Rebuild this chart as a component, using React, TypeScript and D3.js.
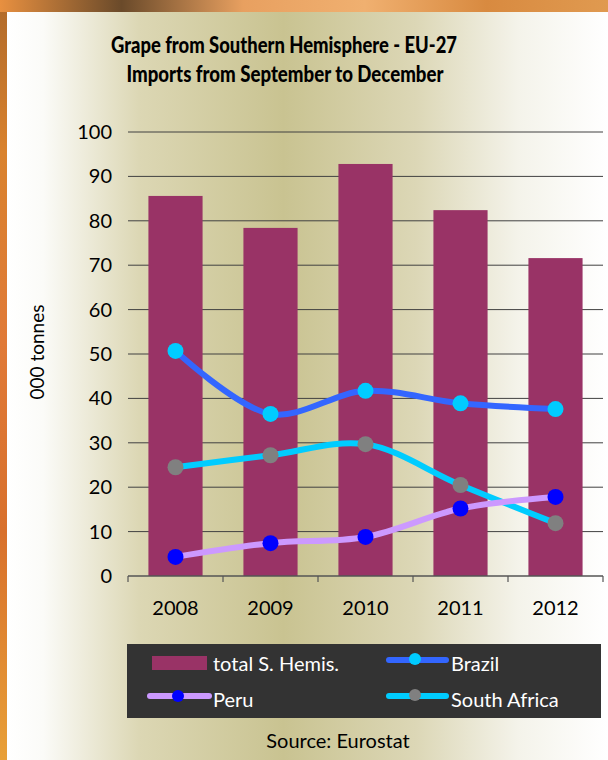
import React from "react";
import * as d3 from "d3";

const years = ["2008", "2009", "2010", "2011", "2012"];
const totalSH = [85.6, 78.4, 92.8, 82.4, 71.6];
const brazil = [50.7, 36.5, 41.7, 38.9, 37.6];
const southAfrica = [24.5, 27.2, 29.7, 20.5, 11.9];
const peru = [4.3, 7.4, 8.8, 15.2, 17.8];
const yTicks = [0, 10, 20, 30, 40, 50, 60, 70, 80, 90, 100];

const W = 608;
const H = 760;
const FONT = "Lato, 'Open Sans', sans-serif";

export default function App() {
  const x = d3
    .scaleBand<string>()
    .domain(years)
    .range([128, 603])
    .paddingInner(0.43)
    .paddingOuter(0.215);
  const y = d3.scaleLinear().domain([0, 100]).range([576, 132]);
  const cx = (d: string) => (x(d) as number) + x.bandwidth() / 2;
  const line = d3
    .line<number>()
    .x((_, i) => cx(years[i]))
    .y((v) => y(v))
    .curve(d3.curveCatmullRom.alpha(0.5));

  const series = [
    { name: "Brazil", values: brazil, stroke: "#3366FF", marker: "#00CCFF" },
    { name: "South Africa", values: southAfrica, stroke: "#00CCFF", marker: "#808080" },
    { name: "Peru", values: peru, stroke: "#CC99FF", marker: "#0000FF" },
  ];
  const step = x.step();
  const boundaries = d3.range(years.length + 1).map((i) => 128 + i * step);

  return (
    <svg
      width={W}
      height={H}
      style={{ position: "absolute", left: 0, top: 0, display: "block" }}
      fontFamily={FONT}
    >
      <defs>
        <linearGradient id="leaves" x1="0" y1="0" x2="0" y2="1">
          <stop offset="0" stopColor="#b06a2a" />
          <stop offset="0.2" stopColor="#d9822e" />
          <stop offset="0.45" stopColor="#e07a38" />
          <stop offset="0.7" stopColor="#d8702c" />
          <stop offset="1" stopColor="#e8a038" />
        </linearGradient>
        <linearGradient id="topLeaves" x1="0" y1="0" x2="1" y2="0">
          <stop offset="0" stopColor="#e89040" />
          <stop offset="0.2" stopColor="#6a4a2a" />
          <stop offset="0.4" stopColor="#e8a060" />
          <stop offset="0.6" stopColor="#f0b070" />
          <stop offset="0.8" stopColor="#d88a40" />
          <stop offset="1" stopColor="#e09a50" />
        </linearGradient>
        <linearGradient id="panel" x1="7" y1="0" x2="608" y2="0" gradientUnits="userSpaceOnUse">
          <stop offset="0" stopColor="#ffffff" />
          <stop offset="0.06" stopColor="#fbfbf8" />
          <stop offset="0.22" stopColor="#dcd7b4" />
          <stop offset="0.46" stopColor="#c9c391" />
          <stop offset="0.68" stopColor="#dcd7b6" />
          <stop offset="0.85" stopColor="#f4f3ea" />
          <stop offset="1" stopColor="#ffffff" />
        </linearGradient>
      </defs>
      <rect x={0} y={0} width={W} height={H} fill="url(#leaves)" />
      <rect x={0} y={0} width={W} height={12} fill="url(#topLeaves)" />
      <rect x={7} y={12} width={W - 7} height={H - 12} fill="url(#panel)" />

      <text x={284} y={53} textAnchor="middle" fontSize={22} fontWeight={900} fill="#000" textLength={346} lengthAdjust="spacingAndGlyphs">
        Grape from Southern Hemisphere - EU-27
      </text>
      <text x={285} y={82} textAnchor="middle" fontSize={22} fontWeight={900} fill="#000" textLength={317} lengthAdjust="spacingAndGlyphs">
        Imports from September to December
      </text>

      {/* gridlines */}
      {yTicks.filter((t) => t > 0).map((t) => (
        <line key={t} x1={128} x2={603} y1={y(t)} y2={y(t)} stroke="#404040" strokeWidth={1} />
      ))}
      {/* y tick labels */}
      {yTicks.map((t) => (
        <text key={t} x={112} y={y(t) + 7} textAnchor="end" fontSize={20} fill="#000">
          {t}
        </text>
      ))}
      <text
        transform={`translate(44,352) rotate(-90)`}
        textAnchor="middle"
        fontSize={19}
        fill="#000"
      >
        000 tonnes
      </text>

      {/* bars */}
      {years.map((yr, i) => (
        <rect
          key={yr}
          x={x(yr)}
          y={y(totalSH[i])}
          width={x.bandwidth()}
          height={y(0) - y(totalSH[i])}
          fill="#993366"
        />
      ))}

      {/* x axis */}
      <line x1={128} x2={603} y1={576} y2={576} stroke="#555" strokeWidth={1.5} />
      {boundaries.map((b, i) => (
        <line key={i} x1={b} x2={b} y1={576} y2={582} stroke="#555" strokeWidth={1.2} />
      ))}
      {years.map((yr) => (
        <text key={yr} x={cx(yr)} y={615} textAnchor="middle" fontSize={20} fill="#000">
          {yr}
        </text>
      ))}

      {/* lines */}
      {series.map((s) => (
        <path key={s.name} d={line(s.values) as string} fill="none" stroke={s.stroke} strokeWidth={6} strokeLinejoin="round" strokeLinecap="round" />
      ))}
      {series.map((s) =>
        s.values.map((v, i) => (
          <circle key={s.name + i} cx={cx(years[i])} cy={y(v)} r={8} fill={s.marker} />
        ))
      )}

      {/* legend */}
      <rect x={127} y={644} width={474} height={74} fill="#333333" />
      <rect x={152} y={656} width={55} height={14} fill="#993366" />
      <text x={213} y={671} fontSize={20} fill="#fff">total S. Hemis.</text>
      <line x1={150} x2={209} y1={696} y2={696} stroke="#CC99FF" strokeWidth={6} strokeLinecap="round" />
      <circle cx={178} cy={696} r={6} fill="#0000FF" />
      <text x={213} y={707} fontSize={20} fill="#fff">Peru</text>
      <line x1={389} x2={446} y1={660} y2={660} stroke="#3366FF" strokeWidth={6} strokeLinecap="round" />
      <circle cx={415} cy={659} r={6} fill="#00CCFF" />
      <text x={451} y={671} fontSize={20} fill="#fff">Brazil</text>
      <line x1={389} x2={446} y1={696} y2={696} stroke="#00CCFF" strokeWidth={6} strokeLinecap="round" />
      <circle cx={415} cy={695} r={6} fill="#808080" />
      <text x={451} y={707} fontSize={20} fill="#fff">South Africa</text>

      <text x={338} y={748} textAnchor="middle" fontSize={20} fill="#000">Source: Eurostat</text>
    </svg>
  );
}
